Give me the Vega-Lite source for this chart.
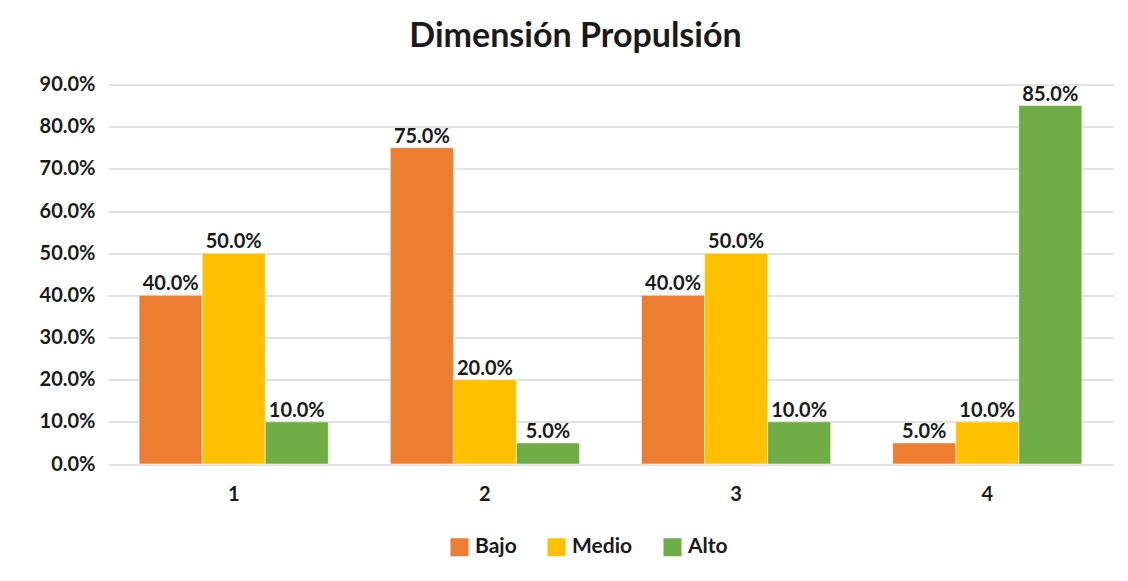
{
  "$schema": "https://vega.github.io/schema/vega-lite/v6.json",
  "autosize": "none",
  "width": 1005,
  "height": 379.5,
  "padding": {"left": 108, "top": 84.5, "right": 15, "bottom": 117},
  "background": "white",
  "config": {
    "view": {"stroke": null},
    "font": "Lato"
  },
  "title": {
    "text": "Dimensión Propulsión",
    "fontSize": 34,
    "fontWeight": "bold",
    "font": "Lato",
    "color": "#1a1a1a",
    "anchor": "middle",
    "baseline": "alphabetic",
    "offset": 37,
    "dy": 43,
    "dx": -35
  },
  "data": {
    "values": [
      {"grupo": "1", "nivel": "Bajo", "valor": 0.40},
      {"grupo": "1", "nivel": "Medio", "valor": 0.50},
      {"grupo": "1", "nivel": "Alto", "valor": 0.10},
      {"grupo": "2", "nivel": "Bajo", "valor": 0.75},
      {"grupo": "2", "nivel": "Medio", "valor": 0.20},
      {"grupo": "2", "nivel": "Alto", "valor": 0.05},
      {"grupo": "3", "nivel": "Bajo", "valor": 0.40},
      {"grupo": "3", "nivel": "Medio", "valor": 0.50},
      {"grupo": "3", "nivel": "Alto", "valor": 0.10},
      {"grupo": "4", "nivel": "Bajo", "valor": 0.05},
      {"grupo": "4", "nivel": "Medio", "valor": 0.10},
      {"grupo": "4", "nivel": "Alto", "valor": 0.85}
    ]
  },
  "encoding": {
    "x": {
      "field": "grupo",
      "type": "nominal",
      "scale": {"paddingInner": 0.247, "paddingOuter": 0.124},
      "axis": {
        "title": null,
        "labelAngle": 0,
        "labelFontSize": 20,
        "labelFontWeight": "bold",
        "labelColor": "#1a1a1a",
        "labelPadding": 20,
        "ticks": false,
        "domain": false,
        "grid": false
      }
    },
    "xOffset": {"field": "nivel", "type": "nominal", "sort": ["Bajo", "Medio", "Alto"]},
    "y": {
      "field": "valor",
      "type": "quantitative",
      "scale": {"domain": [0, 0.9], "nice": false},
      "axis": {
        "title": null,
        "format": ".1%",
        "values": [0, 0.1, 0.2, 0.3, 0.4, 0.5, 0.6, 0.7, 0.8, 0.9],
        "labelFontSize": 20,
        "labelFontWeight": "bold",
        "labelColor": "#1a1a1a",
        "labelPadding": 13,
        "ticks": false,
        "domain": false,
        "gridColor": "#d9d9d9",
        "gridWidth": 1.5
      }
    }
  },
  "layer": [
    {
      "mark": {"type": "bar", "stroke": "white", "strokeWidth": 0.5},
      "encoding": {
        "color": {
          "field": "nivel",
          "type": "nominal",
          "sort": ["Bajo", "Medio", "Alto"],
          "scale": {"domain": ["Bajo", "Medio", "Alto"], "range": ["#ED7D31", "#FFC000", "#70AD47"]},
          "legend": {
            "title": null,
            "orient": "none",
            "direction": "horizontal",
            "legendX": 341,
            "legendY": 452,
            "symbolType": "square",
            "symbolSize": 324,
            "symbolStrokeWidth": 0,
            "labelFontSize": 21,
            "labelFontWeight": "bold",
            "labelColor": "#1a1a1a",
            "labelOffset": 5,
            "columnPadding": 29
          }
        }
      }
    },
    {
      "mark": {"type": "text", "baseline": "alphabetic", "dy": -5, "fontSize": 20, "fontWeight": "bold", "color": "#1a1a1a"},
      "encoding": {
        "text": {"field": "valor", "type": "quantitative", "format": ".1%"}
      }
    }
  ]
}
